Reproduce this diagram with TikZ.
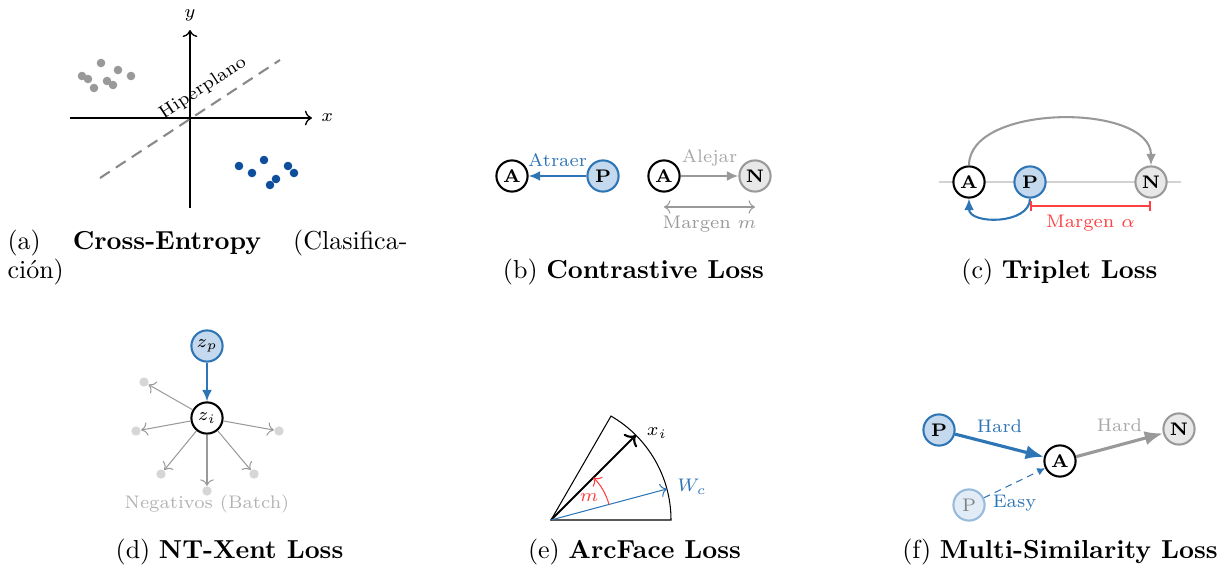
\documentclass[tikz,border=0pt]{standalone}
\usepackage{xcolor}
\definecolor{simblue}{HTML}{2E75B6}
\definecolor{simbluefill}{HTML}{C5D9EE}
\definecolor{dotblue}{HTML}{0D4F9A}
\definecolor{neggray}{HTML}{999999}
\definecolor{neggrayfill}{HTML}{E8E8E8}
\definecolor{marginred}{HTML}{FF4040}
\definecolor{hypgray}{HTML}{888888}
\definecolor{lightdot}{HTML}{D6D6D6}
\definecolor{lighttext}{HTML}{B3B3B3}
\usepackage{tikz}
\usetikzlibrary{arrows.meta, positioning, calc}

\begin{document}
\begin{tikzpicture}[x=0.3846pt, y=0.3846pt,
    anchorn/.style={circle, draw=black, thick, fill=white, minimum size=12pt,
                    inner sep=0pt, font=\scriptsize\bfseries},
    posn/.style={anchorn, draw=simblue, fill=simbluefill},
    negn/.style={anchorn, draw=neggray, fill=neggrayfill},
    dotn/.style={circle, fill=lightdot, inner sep=0pt, minimum size=3.6pt},
    lbl/.style={font=\scriptsize},
    caption/.style={anchor=base, inner sep=0pt, font=\normalsize},
    tip/.style={-{Latex[length=4.4pt, width=3.8pt]}}]
  \useasboundingbox (0,0) rectangle (1231,569);

  % (a) Cross-Entropy
  \coordinate (xl) at (70,451);
  \coordinate (xr) at (312,451);
  \coordinate (yb) at (190,361);
  \coordinate (yt) at (190,539);
  \draw[->, line width=0.5pt] (xl) -- (xr) node[right, lbl] (xlab) {$x$};
  \draw[->, line width=0.5pt] (yb) -- (yt) node[above, lbl] (ylab) {$y$};
  \coordinate (h1) at (100,391);
  \coordinate (h2) at (280,509);
  \draw[hypgray, thick, dash pattern=on 4.5pt off 2.8pt] (h1) -- (h2);
  \node[lbl, rotate=33.2, inner sep=1pt] (hyp) at (203,481) {Hiperplano};
  \foreach \p in {(82,493),(88,490),(101,506),(94,481),(107,488),(113,484),(118,499),(131,493)}
    \fill[neggray] \p circle (4.3);
  \foreach \p in {(239,403),(252,396),(264,409),(270,384),(276,390),(288,403),(294,396)}
    \fill[dotblue] \p circle (4.3);
  \node[anchor=base west, inner sep=0pt] (capa) at (7,320)
    {\makebox[153.8pt]{(a)\hfill\textbf{Cross-Entropy}\hfill(Clasifica-}};
  \node[anchor=base west, inner sep=0pt] (capa2) at (7,291) {ción)};

  % (b) Contrastive
  \node[anchorn] (ba1) at (512,393) {A};
  \node[posn] (bp) at (603,393) {P};
  \node[anchorn] (ba2) at (664,393) {A};
  \node[negn] (bn) at (755,393) {N};
  \draw[tip, thick, simblue] (bp) -- node[above, lbl] (atr) {Atraer} (ba1);
  \draw[tip, thick, neggray] (ba2) -- node[above, lbl, text=neggray!85] (alj) {Alejar} (bn);
  \draw[<->, thin, neggray] ($(ba2)+(0,-31)$) -- node[below, lbl] (mrg) {Margen $m$} ($(bn)+(0,-31)$);
  \node[caption] (capb) at (633.5,291) {(b) \textbf{Contrastive Loss}};

  % (c) Triplet
  \coordinate (cl) at (939,387);
  \coordinate (cr) at (1181,387);
  \draw[gray!35, semithick] (cl) -- (cr);
  \node[anchorn] (ca) at (969,387) {A};
  \node[posn] (cp) at (1030,387) {P};
  \node[negn] (cn) at (1151,387) {N};
  \draw[tip, thick, neggray] (ca.north) to[out=90, in=90, looseness=0.88] (cn.north);
  \draw[tip, thick, simblue] (cp.south) to[out=-90, in=-90, looseness=1.1] (ca.south);
  \draw[semithick, marginred, {Bar[width=3.5pt]}-{Bar[width=3.5pt]}]
    ($(cp)+(0,-24)$) -- node[below, lbl] (alp) {Margen $\alpha$} ($(cn)+(0,-24)$);
  \node[caption] (capc) at (1059.5,291) {(c) \textbf{Triplet Loss}};

  % (d) NT-Xent
  \node[posn, font=\scriptsize] (zp) at (207,223) {$z_p$};
  \node[anchorn, font=\scriptsize] (zi) at (207,151) {$z_i$};
  \draw[tip, thick, simblue] (zp) -- (zi);
  \foreach \i/\px/\py in {1/144/187, 2/136/138, 3/279/138, 4/161/95, 5/254/95, 6/207/78}
    \node[dotn] (neg\i) at (\px,\py) {};
  \foreach \i in {1,...,6}
    \draw[->, thin, neggray] (zi) -- (neg\i);
  \node[lbl, text=lighttext, inner sep=0.5pt] (negl) at (207,65) {Negativos (Batch)};
  \node[caption] (capd) at (229.5,11) {(d) \textbf{NT-Xent Loss}};

  % (e) ArcFace
  \coordinate (O) at (551,49);
  \draw[thin] (O) -- ++(0:120) arc[start angle=0, end angle=60, radius=120] -- cycle;
  \coordinate (xi) at ($(O)+(45:120)$);
  \coordinate (wc) at ($(O)+(15:120)$);
  \draw[->, thick] (O) -- (xi);
  \draw[->, thin, simblue] (O) -- (wc);
  \node[lbl] (xil) at (657,136) {$x_i$};
  \node[lbl, text=simblue] (wcl) at (692,82) {$W_c$};
  \draw[->, thin, marginred] ($(O)+(15:60)$) arc[start angle=15, end angle=45, radius=60];
  \node[lbl, text=marginred, inner sep=1pt] (ml) at ($(O)+(30:44)$) {$m$};
  \node[caption] (cape) at (634.5,11) {(e) \textbf{ArcFace Loss}};

  % (f) Multi-Similarity
  \node[posn] (fp) at (939,139) {P};
  \node[anchorn] (fa) at (1060,108) {A};
  \node[negn] (fn) at (1179,140) {N};
  \node[anchorn, draw=simblue!50, fill=simbluefill!50, text=black!50, font=\scriptsize] (fpe) at (969,64) {P};
  \draw[-{Latex[length=7pt, width=5.5pt]}, line width=1.2pt, simblue]
    (fp) -- node[above=1pt, lbl] (hardp) {Hard} (fa);
  \draw[-{Latex[length=7pt, width=5.5pt]}, line width=1.2pt, neggray]
    (fa) -- node[above=1pt, lbl, text=neggray!85] (hardn) {Hard} (fn);
  \draw[-{Latex[length=3pt, width=3pt]}, simblue, dash pattern=on 2.6pt off 2pt]
    (fpe) -- node[below=1pt, lbl] (easy) {Easy} (fa);
  \node[caption] (capf) at (1060,11) {(f) \textbf{Multi-Similarity Loss}};
\end{tikzpicture}
\end{document}
